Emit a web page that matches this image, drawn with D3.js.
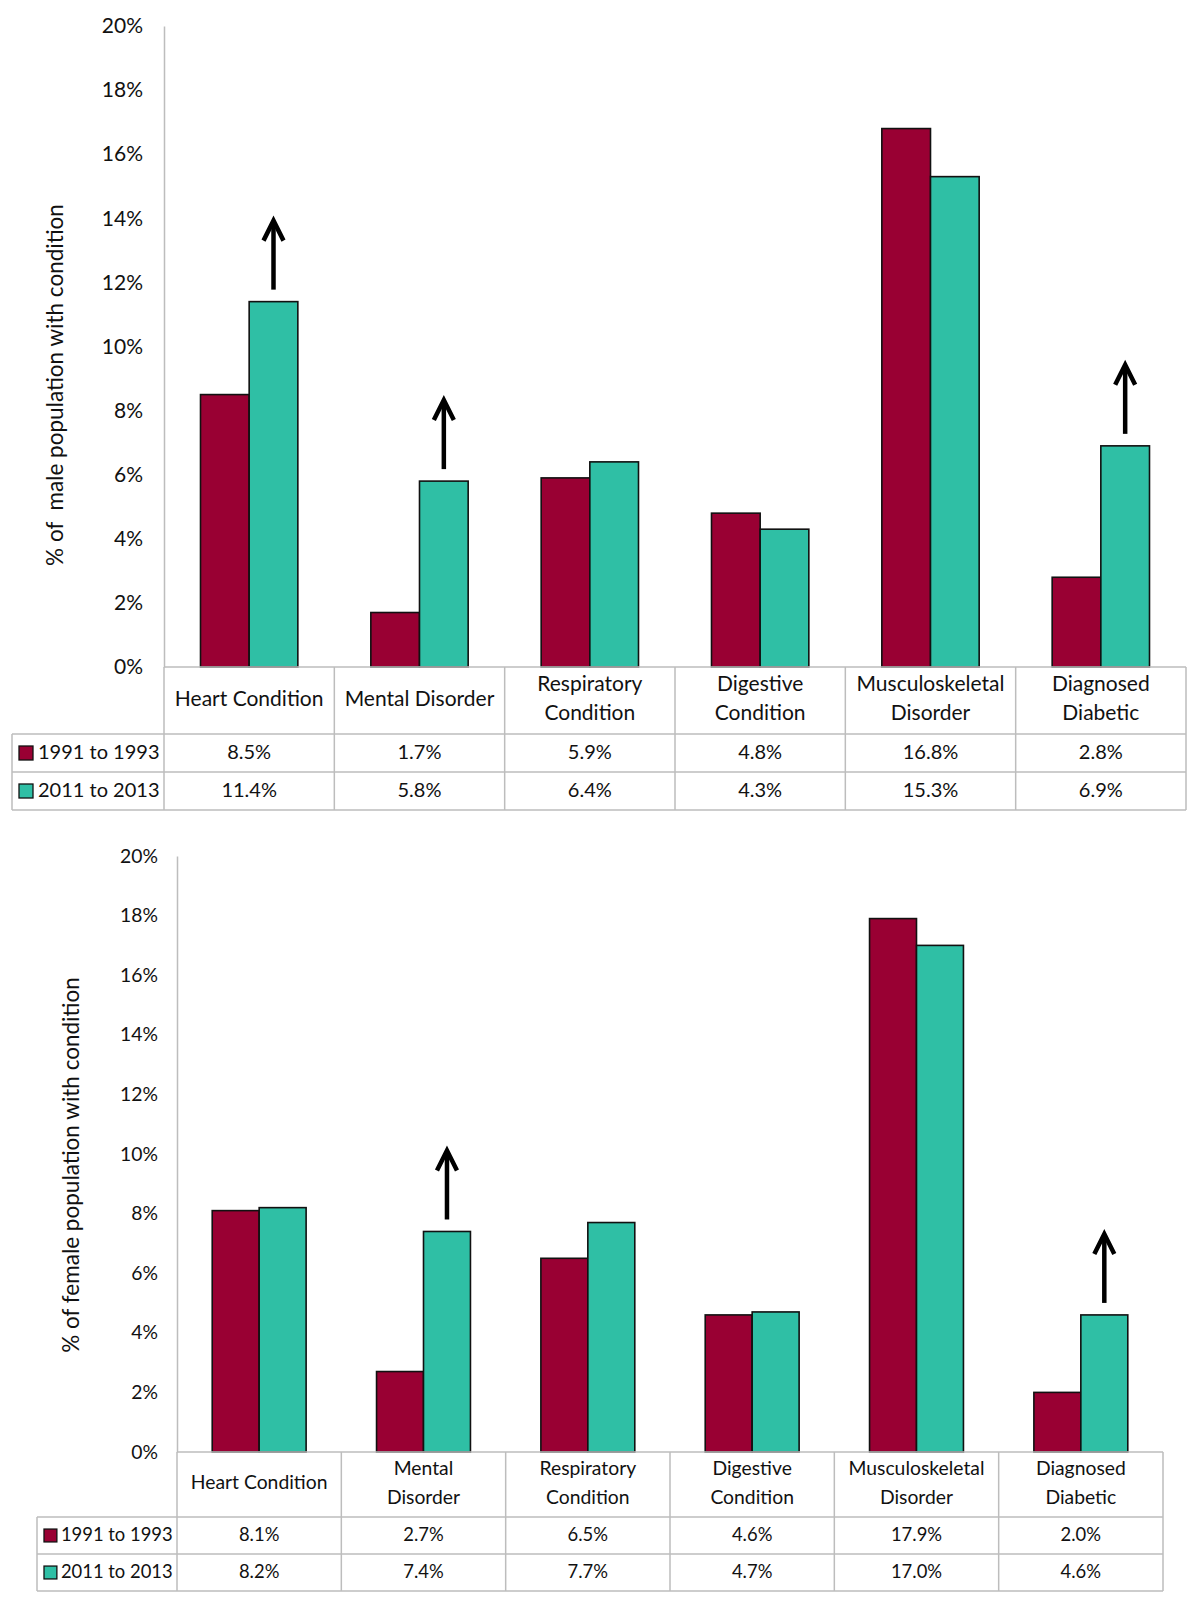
<!DOCTYPE html>
<html>
<head>
<meta charset="utf-8">
<script src="https://cdn.jsdelivr.net/npm/d3@7"></script>
<style>
  body { margin: 0; background: #fff; }
  text { font-family: Lato, "Open Sans", sans-serif; fill: #111; }
</style>
</head>
<body>
<div id="chart"></div>
<script>
// data
var categories = ["Heart Condition", "Mental Disorder", "Respiratory Condition",
  "Digestive Condition", "Musculoskeletal Disorder", "Diagnosed Diabetic"];
var series = ["1991 to 1993", "2011 to 2013"];
var maleEarly = [8.5, 1.7, 5.9, 4.8, 16.8, 2.8];
var maleLate = [11.4, 5.8, 6.4, 4.3, 15.3, 6.9];
var femaleEarly = [8.1, 2.7, 6.5, 4.6, 17.9, 2.0];
var femaleLate = [8.2, 7.4, 7.7, 4.7, 17.0, 4.6];
var yTicks = [0, 2, 4, 6, 8, 10, 12, 14, 16, 18, 20];
// header labels (line breaks as in the picture)
var maleHeaders = [["Heart Condition"], ["Mental Disorder"], ["Respiratory", "Condition"],
  ["Digestive", "Condition"], ["Musculoskeletal", "Disorder"], ["Diagnosed", "Diabetic"]];
var femaleHeaders = [["Heart Condition"], ["Mental", "Disorder"], ["Respiratory", "Condition"],
  ["Digestive", "Condition"], ["Musculoskeletal", "Disorder"], ["Diagnosed", "Diabetic"]];
// categories marked with an up arrow
var maleArrows = ["Heart Condition", "Mental Disorder", "Diagnosed Diabetic"];
var femaleArrows = ["Mental Disorder", "Diagnosed Diabetic"];

var colors = ["#990033", "#2fbfa5"];
var gridColor = "#bdbdbd";

var svg = d3.select("#chart")
  .append("svg")
  .attr("width", 1200)
  .attr("height", 1620);

function drawPanel(p) {
  var g = svg.append("g");
  var fontSize = 21 * p.scale;
  var cellFont = 20 * p.scale;

  var x = d3.scaleBand()
    .domain(categories)
    .range([p.left, p.right])
    .padding(0);
  var xs = d3.scaleBand()
    .domain(series)
    .range([0, x.step()])
    .paddingInner(0)
    .paddingOuter(0.75);
  var y = d3.scaleLinear()
    .domain([0, 20])
    .range([p.base, p.top]);

  // y axis: plain grey line, labels only
  var yAxis = g.append("g")
    .attr("transform", "translate(" + p.left + ",0)")
    .call(d3.axisLeft(y)
      .tickValues(yTicks)
      .tickSize(0)
      .tickPadding(p.left - p.labelRight)
      .tickFormat(function (d) { return d + "%"; }));
  yAxis.select(".domain").attr("stroke", gridColor).attr("stroke-width", 1.5);
  yAxis.selectAll("text")
    .style("font-family", "Lato, sans-serif")
    .style("font-size", fontSize + "px")
    .attr("fill", "#111");

  // axis title
  g.append("text")
    .attr("transform", "translate(" + p.titleX + "," + p.titleY + ") rotate(-90)")
    .attr("text-anchor", "middle")
    .attr("dominant-baseline", "middle")
    .style("white-space", "pre")
    .style("font-size", "22.5px")
    .text(p.title);

  // bars
  var rows = categories.map(function (c, i) {
    return { cat: c, vals: [p.early[i], p.late[i]] };
  });
  var groups = g.selectAll(".grp")
    .data(rows)
    .enter()
    .append("g")
    .attr("transform", function (d) { return "translate(" + x(d.cat) + ",0)"; });
  groups.selectAll("rect")
    .data(function (d) { return d.vals.map(function (v, j) { return { s: series[j], v: v, j: j }; }); })
    .enter()
    .append("rect")
    .attr("x", function (d) { return xs(d.s); })
    .attr("y", function (d) { return y(d.v); })
    .attr("width", xs.bandwidth())
    .attr("height", function (d) { return p.base - y(d.v); })
    .attr("fill", function (d) { return colors[d.j]; })
    .attr("stroke", "#111")
    .attr("stroke-width", 1.6);

  // arrows above the later bar
  rows.filter(function (d) { return p.arrows.indexOf(d.cat) >= 0; }).forEach(function (d) {
    var ax = x(d.cat) + xs(series[1]) + xs.bandwidth() / 2;
    var y0 = y(d.vals[1]) - 12;
    var tip = y0 - 70;
    g.append("line")
      .attr("x1", ax).attr("x2", ax)
      .attr("y1", y0).attr("y2", tip + 2)
      .attr("stroke", "#000").attr("stroke-width", 4.5);
    g.append("path")
      .attr("d", "M" + (ax - 10) + "," + (tip + 21) + "L" + ax + "," + (tip + 1) + "L" + (ax + 10) + "," + (tip + 21))
      .attr("fill", "none")
      .attr("stroke", "#000")
      .attr("stroke-width", 4.5);
  });

  // data table grid
  var rowBottoms = [p.header, p.row1, p.row2];
  var lines = g.append("g").attr("stroke", gridColor).attr("stroke-width", 1.5);
  lines.append("line").attr("x1", p.left).attr("x2", p.right).attr("y1", p.base).attr("y2", p.base);
  rowBottoms.forEach(function (yy) {
    lines.append("line").attr("x1", p.tableLeft).attr("x2", p.right).attr("y1", yy).attr("y2", yy);
  });
  lines.append("line").attr("x1", p.tableLeft).attr("x2", p.tableLeft).attr("y1", p.header).attr("y2", p.row2);
  categories.concat([null]).forEach(function (c) {
    var xx = c ? x(c) : p.right;
    lines.append("line").attr("x1", xx).attr("x2", xx).attr("y1", p.base).attr("y2", p.row2);
  });

  // header labels
  var lineGap = 29;
  categories.forEach(function (c, i) {
    var lab = p.headers[i];
    var cy = (p.base + p.header) / 2 - (lab.length - 1) * lineGap / 2;
    lab.forEach(function (t, k) {
      g.append("text")
        .attr("x", x(c) + x.bandwidth() / 2)
        .attr("y", cy + k * lineGap)
        .attr("text-anchor", "middle")
        .attr("dominant-baseline", "middle")
        .style("font-size", fontSize + "px")
        .text(t);
    });
  });

  // legend rows with values
  var rowTops = [p.header, p.row1];
  var rowBots = [p.row1, p.row2];
  var key = 14 * p.scale;
  series.forEach(function (s, j) {
    var cy = (rowTops[j] + rowBots[j]) / 2;
    g.append("rect")
      .attr("x", p.tableLeft + 7)
      .attr("y", cy - key / 2)
      .attr("width", key)
      .attr("height", key)
      .attr("fill", colors[j])
      .attr("stroke", "#111")
      .attr("stroke-width", 1.3);
    g.append("text")
      .attr("x", p.tableLeft + 26 * p.scale)
      .attr("y", cy + 1)
      .attr("dominant-baseline", "middle")
      .style("font-size", cellFont + "px")
      .text(s);
    rows.forEach(function (d) {
      g.append("text")
        .attr("x", x(d.cat) + x.bandwidth() / 2)
        .attr("y", cy + 1)
        .attr("text-anchor", "middle")
        .attr("dominant-baseline", "middle")
        .style("font-size", cellFont + "px")
        .text(d.vals[j].toFixed(1) + "%");
    });
  });
}

drawPanel({
  left: 164, right: 1186, top: 26, base: 667,
  header: 734, row1: 772, row2: 810, tableLeft: 12,
  labelRight: 143, titleX: 57, titleY: 385, scale: 1,
  title: "% of  male population with condition",
  early: maleEarly, late: maleLate, headers: maleHeaders, arrows: maleArrows
});

drawPanel({
  left: 177, right: 1163, top: 856, base: 1452,
  header: 1517, row1: 1554, row2: 1591, tableLeft: 37,
  labelRight: 158, titleX: 73, titleY: 1165, scale: 0.92,
  title: "% of female population with condition",
  early: femaleEarly, late: femaleLate, headers: femaleHeaders, arrows: femaleArrows
});
</script>
</body>
</html>
